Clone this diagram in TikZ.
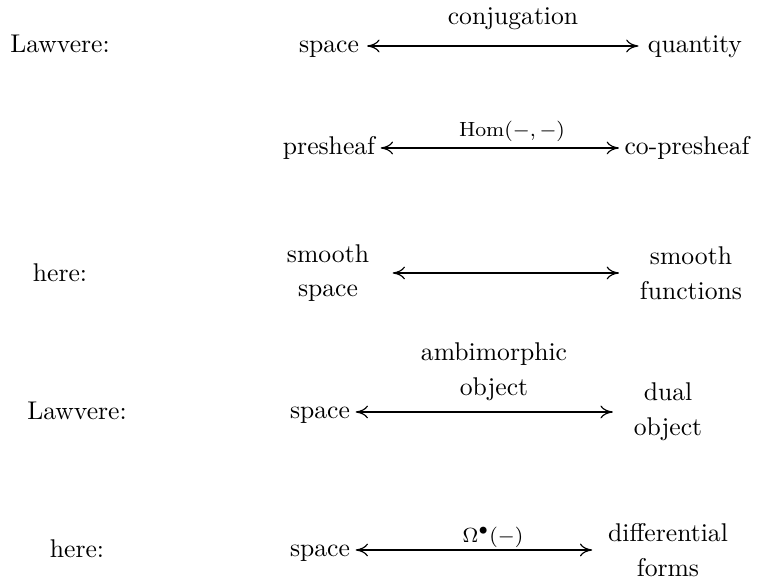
\documentclass[tikz,border=0pt]{standalone}
\usetikzlibrary{arrows.meta}
\begin{document}
\begin{tikzpicture}[x=0.39pt,y=-0.39pt,
  txt/.style={inner sep=0pt,text height=1.5ex,text depth=.25ex,align=center},
  two/.style={inner sep=0pt,align=center},
  lbl/.style={inner sep=0pt,font=\footnotesize},
  biarr/.style={{Computer Modern Rightarrow[length=4.8pt,width=5pt]}-{Computer Modern Rightarrow[length=4.8pt,width=5pt]},line width=0.45pt}]
\useasboundingbox (0,0) rectangle (762,580);
% row 1
\node[txt] (l1) at (60,46) {Lawvere:};
\node[txt] (a1) at (329,46) {space};
\node[txt] (b1) at (695,46) {quantity};
\node[txt] (c1) at (513,18) {conjugation};
\draw[biarr,shorten <=3pt,shorten >=3.5pt] (a1.east) -- (b1.west);
% row 2
\node[txt] (a2) at (329,148) {presheaf};
\node[txt] (b2) at (687,148) {co-presheaf};
\node[lbl] (c2) at (512,131) {$\mathrm{Hom}(-,-)$};
\draw[biarr,shorten <=2pt,shorten >=2pt] (a2.east) -- (b2.west);
% row 3
\node[txt] (l3) at (60,275) {here:};
\node[two] (a3) at (328,273) {smooth\\[1.5pt]space};
\node[two] (b3) at (691,273) {smooth\\[1.5pt]functions};
\draw[biarr,shorten <=9pt,shorten >=8pt] (a3.east) -- (b3.west);
% row 4
\node[txt] (l4) at (77,413) {Lawvere:};
\node[two] (c4) at (494,372) {ambimorphic\\[1.5pt]object};
\node[txt] (a4) at (320,412) {space};
\node[two] (b4) at (668,412) {dual\\[1.5pt]object};
\draw[biarr,shorten <=2pt,shorten >=8pt] (a4.east) -- (b4.west);
% row 5
\node[txt] (l5) at (77,551) {here:};
\node[txt] (a5) at (320,550) {space};
\node[two] (b5) at (668,550) {differential\\[1.5pt]forms};
\node[lbl] (c5) at (493,537) {$\Omega^\bullet(-)$};
\draw[biarr,shorten <=2pt,shorten >=6pt] (a5.east) -- (b5.west);
\end{tikzpicture}
\end{document}
